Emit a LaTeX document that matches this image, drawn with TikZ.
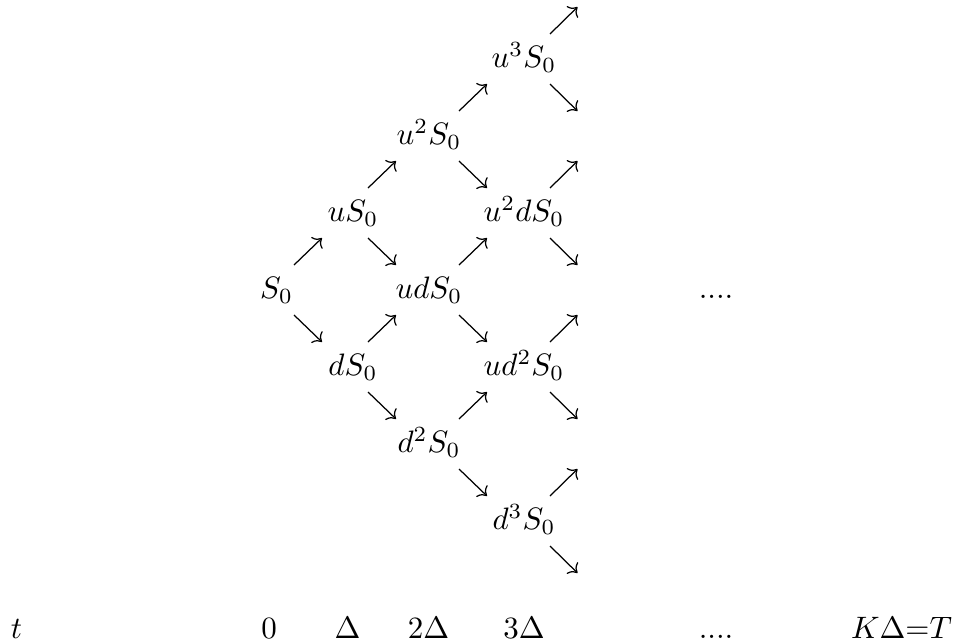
\documentclass[tikz,border=0pt]{standalone}
\usetikzlibrary{arrows.meta,calc}
% arrows of the lattice: \edgeup{lower}{upper}{dx start}{dx end}, \edgedn{upper}{lower}{dx start}{dx end}
\newcommand\edgeup[4]{\draw[arr] ($(#1.base)+(#3,-33.5)$) -- ($(#2.base)+(#4,16.5)$);}
\newcommand\edgedn[4]{\draw[arr] ($(#1.base)+(#3,16.5)$) -- ($(#2.base)+(#4,-33.5)$);}
% arrows leaving the last column
\newcommand\outup[1]{\draw[arr] ($(#1.base)+(26,-33.5)$) -- ++(27.5,-27);}
\newcommand\outdn[1]{\draw[arr] ($(#1.base)+(26,16.5)$) -- ++(27.5,27);}
\begin{document}
\begin{tikzpicture}[x=0.32258pt,y=-0.32258pt,
  lbl/.style={inner sep=0pt,anchor=base},
  arr/.style={line width=0.4pt,-{Computer Modern Rightarrow}}]
\useasboundingbox (0,0) rectangle (955,644);

% binomial lattice of prices
\node[lbl] (S0)    at (276.5,298.5) {$S_0$};
\node[lbl] (uS0)   at (353,221.5)   {$uS_0$};
\node[lbl] (dS0)   at (353,375.5)   {$dS_0$};
\node[lbl] (uuS0)  at (429,144.5)   {$u^2S_0$};
\node[lbl] (udS0)  at (429,298.5)   {$udS_0$};
\node[lbl] (ddS0)  at (429,452.5)   {$d^2S_0$};
\node[lbl] (uuuS0) at (524,67.5)    {$u^3S_0$};
\node[lbl] (uudS0) at (524,221.5)   {$u^2dS_0$};
\node[lbl] (uddS0) at (524,375.5)   {$ud^2S_0$};
\node[lbl] (dddS0) at (524,529.5)   {$d^3S_0$};
\node[lbl] (more)  at (716,298.5)   {....};

% time axis
\node[lbl] (tlab)  at (16.5,638)  {$t$};
\node[lbl] (t0)    at (269,638)   {$0$};
\node[lbl] (t1)    at (347.5,638) {$\Delta$};
\node[lbl] (t2)    at (428.5,638) {$2\Delta$};
\node[lbl] (t3)    at (524,638)   {$3\Delta$};
\node[lbl] (tdots) at (716,638)   {....};
\node[lbl] (tK)    at (901.5,638) {$K\Delta{=}T$};

% step 0 -> 1
\edgeup{S0}{uS0}{17.5}{-31}
\edgedn{S0}{dS0}{17.5}{-31}
% step 1 -> 2
\edgeup{uS0}{uuS0}{15}{-33}
\edgedn{uS0}{udS0}{15}{-33}
\edgeup{dS0}{udS0}{15}{-33}
\edgedn{dS0}{ddS0}{15}{-33}
% step 2 -> 3
\edgeup{uuS0}{uuuS0}{30}{-37}
\edgedn{uuS0}{uudS0}{30}{-37}
\edgeup{udS0}{uudS0}{30}{-37}
\edgedn{udS0}{uddS0}{30}{-37}
\edgeup{ddS0}{uddS0}{30}{-37}
\edgedn{ddS0}{dddS0}{30}{-37}
% step 3 -> 4
\outup{uuuS0} \outdn{uuuS0}
\outup{uudS0} \outdn{uudS0}
\outup{uddS0} \outdn{uddS0}
\outup{dddS0} \outdn{dddS0}
\end{tikzpicture}
\end{document}
